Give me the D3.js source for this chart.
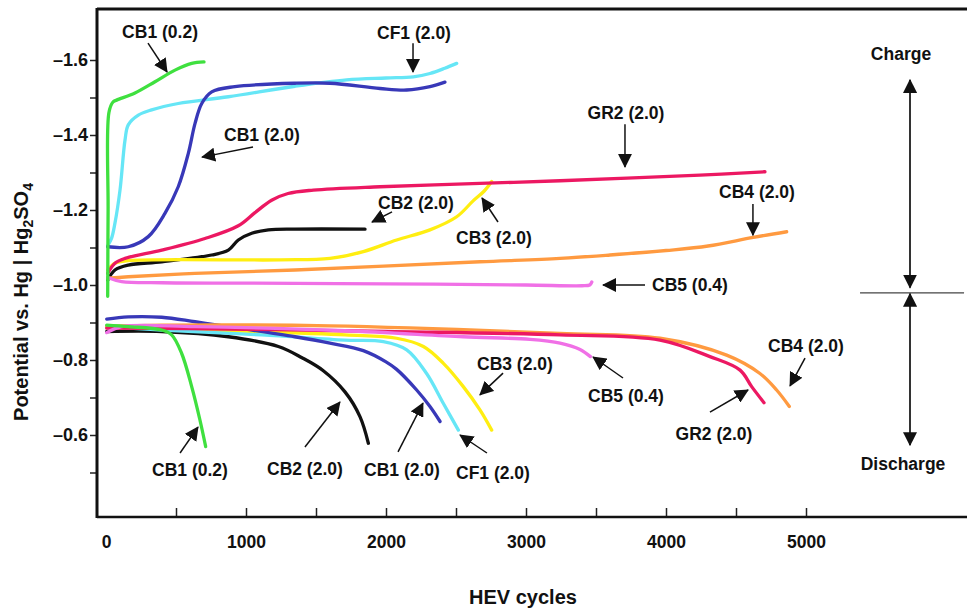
<!DOCTYPE html>
<html>
<head>
<meta charset="utf-8">
<script src="https://cdn.jsdelivr.net/npm/d3@7"></script>
<style>
  body { margin: 0; background: #fff; }
  svg text { font-family: "Liberation Sans", Arial, sans-serif; font-weight: bold; fill: #111; }
</style>
</head>
<body>
<svg id="chart" width="967" height="611"></svg>
<script>
// values: [HEV cycles, potential (V vs Hg|Hg2SO4)]
const cb1_02_charge = [[12,-0.97],[15,-1.2],[21,-1.46],[50,-1.488],[76,-1.493],[207,-1.512],[350,-1.542],[493,-1.573],[612,-1.591],[700,-1.595]];
const cb1_02_dis = [[5,-0.893],[159,-0.889],[398,-0.88],[469,-0.867],[540,-0.818],[612,-0.729],[671,-0.64],[712,-0.569]];

const cb1_20_charge = [[12,-1.102],[159,-1.102],[302,-1.129],[421,-1.191],[516,-1.262],[588,-1.351],[636,-1.431],[684,-1.484],[755,-1.515],[921,-1.529],[1350,-1.538],[1600,-1.538],[1957,-1.524],[2148,-1.52],[2314,-1.529],[2421,-1.541]];
const cb1_20_dis = [[5,-0.909],[159,-0.915],[398,-0.914],[636,-0.902],[874,-0.889],[1350,-0.862],[1600,-0.845],[1838,-0.825],[2000,-0.795],[2076,-0.775],[2219,-0.72],[2314,-0.676],[2386,-0.636]];

const cf1_charge = [[12,-1.105],[40,-1.125],[64,-1.165],[100,-1.253],[136,-1.387],[159,-1.427],[231,-1.453],[326,-1.467],[516,-1.484],[874,-1.502],[1350,-1.53],[1719,-1.547],[2000,-1.552],[2195,-1.555],[2314,-1.564],[2420,-1.578],[2505,-1.591]];
const cf1_dis = [[5,-0.89],[398,-0.88],[1112,-0.867],[1707,-0.853],[1981,-0.849],[2148,-0.827],[2290,-0.764],[2410,-0.684],[2517,-0.613]];

const gr2_charge = [[12,-1.031],[64,-1.058],[136,-1.071],[398,-1.093],[707,-1.124],[945,-1.158],[1064,-1.193],[1183,-1.226],[1300,-1.244],[1481,-1.253],[1957,-1.262],[2671,-1.271],[3243,-1.278],[4243,-1.293],[4707,-1.302]];
const gr2_dis = [[5,-0.885],[1000,-0.882],[2000,-0.876],[3243,-0.867],[3957,-0.853],[4314,-0.809],[4529,-0.773],[4612,-0.729],[4700,-0.686]];

const cb2_charge = [[12,-1.013],[64,-1.04],[159,-1.053],[398,-1.062],[755,-1.08],[874,-1.093],[945,-1.12],[1041,-1.138],[1160,-1.147],[1350,-1.149],[1850,-1.149]];
const cb2_dis = [[5,-0.876],[398,-0.876],[874,-0.862],[1231,-0.836],[1400,-0.806],[1550,-0.772],[1707,-0.715],[1814,-0.649],[1874,-0.578]];

const cb3_charge = [[12,-1.04],[64,-1.058],[159,-1.065],[1243,-1.067],[1600,-1.071],[1838,-1.089],[2076,-1.12],[2314,-1.147],[2505,-1.182],[2624,-1.225],[2700,-1.25],[2755,-1.276]];
const cb3_dis = [[5,-0.89],[398,-0.884],[1707,-0.867],[2076,-0.858],[2267,-0.836],[2410,-0.791],[2552,-0.729],[2671,-0.667],[2755,-0.613]];

const cb4_charge = [[12,-1.018],[159,-1.022],[636,-1.031],[1350,-1.04],[2671,-1.062],[3243,-1.071],[3600,-1.08],[4000,-1.092],[4300,-1.104],[4624,-1.127],[4862,-1.142]];
const cb4_dis = [[5,-0.89],[398,-0.893],[1600,-0.891],[3243,-0.871],[3957,-0.858],[4433,-0.813],[4671,-0.764],[4790,-0.72],[4881,-0.676]];

const cb5_charge = [[12,-1.02],[112,-1.009],[398,-1.006],[1000,-1.005],[2000,-1.003],[3000,-1.0],[3400,-0.998],[3455,-1.0],[3470,-1.008]];
const cb5_dis = [[5,-0.873],[112,-0.889],[636,-0.889],[1707,-0.878],[2552,-0.862],[3029,-0.855],[3243,-0.845],[3386,-0.828],[3460,-0.809]];

const xTicks = [500,1000,1500,2000,2500,3000,3500,4000,4500,5000];
const xLabels = [0,1000,2000,3000,4000,5000];
const yTicks = [-1.6,-1.5,-1.4,-1.3,-1.2,-1.1,-1.0,-0.9,-0.8,-0.7,-0.6,-0.5];
const yLabels = [-1.6,-1.4,-1.2,-1.0,-0.8,-0.6];

// label text, text point, arrow tail, arrow head (data units)
const notes = [
  ["CB1 (0.2)", [386,-1.659], [300,-1.645], [436,-1.568]],
  ["CB1 (2.0)", [1114,-1.384], [1050,-1.368], [686,-1.341]],
  ["CF1 (2.0)", [2200,-1.656], [2193,-1.645], [2193,-1.568]],
  ["GR2 (2.0)", [3714,-1.443], [3707,-1.429], [3707,-1.315]],
  ["CB2 (2.0)", [2214,-1.203], [2043,-1.195], [1900,-1.168]],
  ["CB3 (2.0)", [2771,-1.109], [2800,-1.168], [2686,-1.232]],
  ["CB4 (2.0)", [4650,-1.232], [4621,-1.216], [4621,-1.133]],
  ["CB5 (0.4)", [4171,-0.984], [3850,-1.0], [3550,-1.0]],
  ["CB1 (0.2)", [600,-0.491], [529,-0.552], [657,-0.621]],
  ["CB2 (2.0)", [1421,-0.493], [1421,-0.568], [1671,-0.688]],
  ["CB1 (2.0)", [2114,-0.491], [2086,-0.555], [2264,-0.685]],
  ["CF1 (2.0)", [2764,-0.483], [2721,-0.552], [2529,-0.6]],
  ["CB3 (2.0)", [2921,-0.773], [2836,-0.765], [2671,-0.707]],
  ["CB5 (0.4)", [3714,-0.688], [3693,-0.752], [3479,-0.808]],
  ["GR2 (2.0)", [4343,-0.587], [4314,-0.661], [4586,-0.72]],
  ["CB4 (2.0)", [5000,-0.821], [4993,-0.805], [4886,-0.731]]
];

const series = [
  {color: "#111111", lines: [cb2_charge, cb2_dis]},
  {color: "#ffee11", lines: [cb3_charge, cb3_dis]},
  {color: "#66e6f6", lines: [cf1_charge, cf1_dis]},
  {color: "#3838b8", lines: [cb1_20_charge, cb1_20_dis]},
  {color: "#ff9a40", lines: [cb4_charge, cb4_dis]},
  {color: "#ec1862", lines: [gr2_charge, gr2_dis]},
  {color: "#f070e6", lines: [cb5_charge, cb5_dis]},
  {color: "#3fe03f", lines: [cb1_02_charge, cb1_02_dis]}
];

const svg = d3.select("#chart");
const x = d3.scaleLinear().domain([0, 5000]).range([106, 806]);
const y = d3.scaleLinear().domain([-1.6, -0.6]).range([60, 435]);

const fmt = v => v === 0 ? "0" : String(v);
const yFmt = v => "\u2013" + Math.abs(v).toFixed(1);

// axes
svg.append("g").attr("transform", "translate(0,517)")
  .call(d3.axisBottom(x).tickValues(xTicks).tickSize(-9).tickFormat(""))
  .call(g => g.select(".domain").remove())
  .selectAll("line").attr("stroke", "#222").attr("stroke-width", 1.5);
svg.append("g").attr("transform", "translate(0,517)")
  .call(d3.axisBottom(x).tickValues(xLabels).tickSize(0).tickPadding(19).tickFormat(fmt))
  .call(g => g.select(".domain").remove())
  .selectAll("text").attr("font-size", 17.5).attr("font-family", "Liberation Sans, Arial").attr("font-weight", "bold");

svg.append("g").attr("transform", "translate(97,0)")
  .call(d3.axisLeft(y).tickValues(yTicks).tickSize(7).tickFormat(""))
  .call(g => g.select(".domain").remove())
  .selectAll("line").attr("stroke", "#222").attr("stroke-width", 1.5);
svg.append("g").attr("transform", "translate(97,0)")
  .call(d3.axisLeft(y).tickValues(yLabels).tickSize(0).tickPadding(9).tickFormat(yFmt))
  .call(g => g.select(".domain").remove())
  .selectAll("text").attr("font-size", 18).attr("font-family", "Liberation Sans, Arial").attr("font-weight", "bold");

// frame
svg.append("line").attr("x1", 97).attr("x2", 967).attr("y1", 9).attr("y2", 9).attr("stroke", "#111").attr("stroke-width", 3);
svg.append("line").attr("x1", 97).attr("x2", 967).attr("y1", 517).attr("y2", 517).attr("stroke", "#111").attr("stroke-width", 2.5);
svg.append("line").attr("x1", 97).attr("x2", 97).attr("y1", 8).attr("y2", 518).attr("stroke", "#111").attr("stroke-width", 3);

// curves
const line = d3.line().x(d => x(d[0])).y(d => y(d[1])).curve(d3.curveCatmullRom.alpha(0.5));
series.forEach(s => {
  s.lines.forEach(l => {
    svg.append("path").datum(l)
      .attr("d", line)
      .attr("fill", "none")
      .attr("stroke", s.color)
      .attr("stroke-width", 3.3)
      .attr("stroke-linecap", "round")
      .attr("stroke-linejoin", "round");
  });
});

// arrow marker
svg.append("defs").append("marker")
  .attr("id", "head").attr("markerUnits", "userSpaceOnUse")
  .attr("viewBox", "0 0 14 14").attr("refX", 13).attr("refY", 7)
  .attr("markerWidth", 14).attr("markerHeight", 14).attr("orient", "auto")
  .append("path").attr("d", "M0,0 L14,7 L0,14 Z").attr("fill", "#111");

// annotations
notes.forEach(n => {
  svg.append("line")
    .attr("x1", x(n[2][0])).attr("y1", y(n[2][1]))
    .attr("x2", x(n[3][0])).attr("y2", y(n[3][1]))
    .attr("stroke", "#111").attr("stroke-width", 1.5)
    .attr("marker-end", "url(#head)");
  svg.append("text")
    .attr("x", x(n[1][0])).attr("y", y(n[1][1]))
    .attr("text-anchor", "middle").attr("font-size", 17.5)
    .text(n[0]);
});

// charge / discharge indicator
const sideX = 5743;
svg.append("line")
  .attr("x1", x(5386)).attr("x2", x(6129)).attr("y1", y(-0.979)).attr("y2", y(-0.979))
  .attr("stroke", "#444").attr("stroke-width", 1.2);
svg.append("line")
  .attr("x1", x(sideX)).attr("x2", x(sideX)).attr("y1", y(-1.2)).attr("y2", y(-1.547))
  .attr("stroke", "#333").attr("stroke-width", 2).attr("marker-end", "url(#head)");
svg.append("line")
  .attr("x1", x(sideX)).attr("x2", x(sideX)).attr("y1", y(-1.2)).attr("y2", y(-0.993))
  .attr("stroke", "#333").attr("stroke-width", 2).attr("marker-end", "url(#head)");
svg.append("line")
  .attr("x1", x(sideX)).attr("x2", x(sideX)).attr("y1", y(-0.8)).attr("y2", y(-0.977))
  .attr("stroke", "#333").attr("stroke-width", 2).attr("marker-end", "url(#head)");
svg.append("line")
  .attr("x1", x(sideX)).attr("x2", x(sideX)).attr("y1", y(-0.8)).attr("y2", y(-0.573))
  .attr("stroke", "#333").attr("stroke-width", 2).attr("marker-end", "url(#head)");
svg.append("text").attr("x", 901).attr("y", 60).attr("text-anchor", "middle").attr("font-size", 17.5).text("Charge");
svg.append("text").attr("x", 903).attr("y", 470).attr("text-anchor", "middle").attr("font-size", 17.5).text("Discharge");

// axis titles
svg.append("text").attr("x", 523).attr("y", 604).attr("text-anchor", "middle").attr("font-size", 20).text("HEV cycles");
const yt = svg.append("text").attr("transform", "translate(28,302) rotate(-90)")
  .attr("text-anchor", "middle").attr("font-size", 20);
yt.append("tspan").text("Potential vs. Hg | Hg");
yt.append("tspan").attr("font-size", 14).attr("dy", 5).text("2");
yt.append("tspan").attr("dy", -5).text("SO");
yt.append("tspan").attr("font-size", 14).attr("dy", 5).text("4");
</script>
</body>
</html>
